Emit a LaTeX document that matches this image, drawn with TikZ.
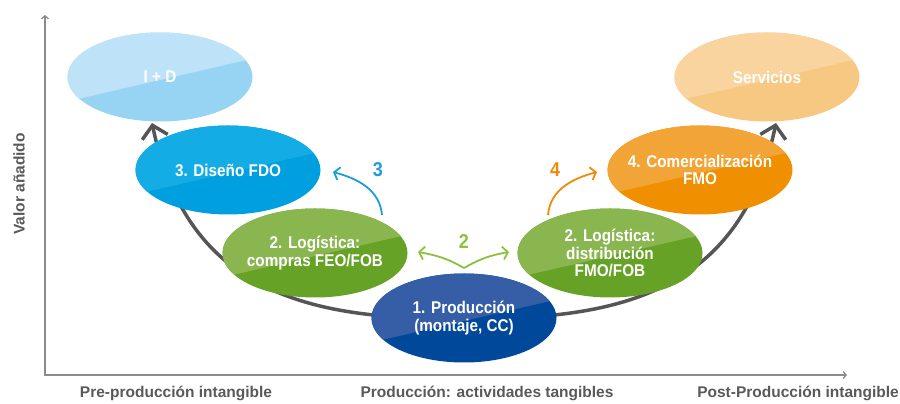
\documentclass[tikz,border=0pt]{standalone}
\usepackage{fontspec}
\setmainfont{Liberation Sans}
\newfontfamily\narrowsans{Liberation Sans}[FakeStretch=0.9]
\usetikzlibrary{shapes.geometric,arrows.meta}

\definecolor{idlight}{HTML}{BEE3F8}
\definecolor{iddark}{HTML}{97D4F4}
\definecolor{servlight}{HTML}{F9D49E}
\definecolor{servdark}{HTML}{F7C882}
\definecolor{dislight}{HTML}{14ACE5}
\definecolor{disdark}{HTML}{009FE0}
\definecolor{comlight}{HTML}{F3A437}
\definecolor{comdark}{HTML}{F08F00}
\definecolor{loglight}{HTML}{8AB64F}
\definecolor{logdark}{HTML}{65A225}
\definecolor{prodlight}{HTML}{355EA6}
\definecolor{proddark}{HTML}{00489A}
\definecolor{curvegray}{HTML}{555555}
\definecolor{axisgray}{HTML}{8C8C8C}
\definecolor{labelgray}{HTML}{595959}
\definecolor{arrowblue}{HTML}{1B9DD9}
\definecolor{arroworange}{HTML}{EF8A0A}
\definecolor{arrowgreen}{HTML}{8CC03F}

\begin{document}
\begin{tikzpicture}[x=1pt,y=1pt,
  stage/.style 2 args={ellipse, minimum width=185pt, minimum height=89pt, inner sep=0pt, fill=#2,
    path picture={\fill[#1] ([yshift=-3pt]path picture bounding box.center) ++(193:150pt) -- ++(13:300pt) -- ++(0,200pt) -- ++(-300pt,0) -- cycle;}},
  stagetext/.style={text=white, align=center, inner sep=0pt, font=\narrowsans\bfseries\fontsize{17}{17.5}\selectfont},
  axislabel/.style={text=labelgray, font=\bfseries\fontsize{15.5}{18}\selectfont},
  stepnum/.style={font=\narrowsans\bfseries\fontsize{20}{20}\selectfont},
  flow/.style={line width=1.8pt, -{Straight Barb[length=5pt,width=13pt]}}]
\useasboundingbox (0,0) rectangle (900,404);
\coordinate (origin) at (45,29);
\coordinate (ytop) at (45,389);
\coordinate (xend) at (847,29);
\draw[axisgray, line width=1.3pt, {Straight Barb[length=3pt,width=7pt]}-{Straight Barb[length=3pt,width=7pt]}] (ytop) -- (origin) -- (xend);
\coordinate (uleft) at (152,281);
\coordinate (ubottom) at (464,86);
\coordinate (uright) at (776,281);
\draw[curvegray, line width=3.5pt, {Straight Barb[length=12pt,width=26pt]}-{Straight Barb[length=12pt,width=26pt]}]
  (uleft) .. controls (185,124) and (290,82) .. (ubottom) .. controls (638,82) and (743,124) .. (uright);
\node[stage={idlight}{iddark}, label={[stagetext]center:I + D}] (idnode) at (160,327) {};
\node[stage={servlight}{servdark}, label={[stagetext]center:Servicios}] (servnode) at (767,327) {};
\node[stage={dislight}{disdark}, label={[stagetext]center:3. Diseño FDO}] (disenonode) at (228,234) {};
\node[stage={comlight}{comdark}, label={[stagetext]center:4. Comercialización\\FMO}] (comernode) at (700,234) {};
\node[stage={loglight}{logdark}, label={[stagetext]center:2. Logística:\\compras FEO/FOB}] (comprasnode) at (315,151) {};
\node[stage={loglight}{logdark}, label={[stagetext]center:2. Logística:\\distribución\\FMO/FOB}] (distrnode) at (610,151) {};
\node[stage={prodlight}{proddark}, label={[stagetext]center:1. Producción\\(montaje, CC)}] (prodnode) at (464,86) {};
\coordinate (disenofrom) at (382,189);
\coordinate (disenoto) at (333,232);
\draw[flow, arrowblue] (disenofrom) to[out=95,in=-15] (disenoto);
\node[stepnum, text=arrowblue] (numdiseno) at (378,234) {3};
\coordinate (logfork) at (464,136);
\coordinate (logleft) at (418,152);
\coordinate (logright) at (509,152);
\draw[flow, arrowgreen] (logfork) to[out=150,in=-10] (logleft);
\draw[flow, arrowgreen] (logfork) to[out=30,in=190] (logright);
\node[stepnum, text=arrowgreen] (numlog) at (464,162) {2};
\coordinate (comerfrom) at (548,189);
\coordinate (comerto) at (597,232);
\draw[flow, arroworange] (comerfrom) to[out=85,in=195] (comerto);
\node[stepnum, text=arroworange] (numcomer) at (555,234) {4};
\node[axislabel, rotate=90] (valor) at (19,220) {Valor añadido};
\node[axislabel] (preprod) at (176,11) {Pre-producción intangible};
\node[axislabel] (prod) at (487,11) {Producción: actividades tangibles};
\node[axislabel] (postprod) at (798,11) {Post-Producción intangible};
\end{tikzpicture}
\end{document}
